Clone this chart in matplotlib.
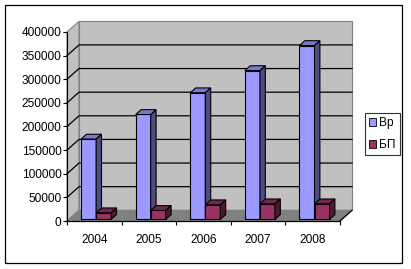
import matplotlib
matplotlib.use("Agg")
import matplotlib.pyplot as plt
from matplotlib.patches import Polygon, Rectangle, Patch
import numpy as np

years = ["2004", "2005", "2006", "2007", "2008"]
vr = [170000, 222000, 268000, 315000, 368000]
bp = [14000, 19000, 31000, 33000, 33000]
series_names = ["Вр", "БП"]
yticks = list(range(0, 400001, 50000))

plt.rcParams["font.family"] = ["Liberation Sans", "DejaVu Sans"]
plt.rcParams["font.size"] = 8.6

W, H = 411, 269
fig = plt.figure(figsize=(W / 100, H / 100), dpi=100)
fig.patch.set_facecolor("white")
fig.add_artist(Rectangle((5 / W, 1 - 263 / H), 397 / W, 258 / H, transform=fig.transFigure,
                         fill=False, edgecolor="black", linewidth=0.9))

ax = fig.add_axes([67 / W, 48 / H, 273 / W, 189 / H])
ax.set_xlim(-0.5, 4.5)
ax.set_ylim(0, 400000)
ax.patch.set_visible(False)

# depth of the 3d box in data units
DX = 12 / 273 * 5
DY = 10.7 / 189 * 400000
x0, x1, ytop = -0.5, 4.5, 400000

def poly(pts, fc, ec, lw=0.8, z=1):
    ax.add_patch(Polygon(pts, closed=True, facecolor=fc, edgecolor=ec, linewidth=lw,
                         clip_on=False, zorder=z))

# walls and floor
poly([(x0, 0), (x0 + DX, DY), (x0 + DX, ytop + DY), (x0, ytop)], "#c0c0c0", "#808080", z=0.5)
poly([(x0 + DX, DY), (x1 + DX, DY), (x1 + DX, ytop + DY), (x0 + DX, ytop + DY)], "#c0c0c0", "#808080", z=0.5)
poly([(x0, 0), (x1, 0), (x1 + DX, DY), (x0 + DX, DY)], "#808080", "#808080", z=0.6)

# gridlines
for v in yticks[1:-1]:
    ax.plot([x0, x0 + DX, x1 + DX], [v, v + DY, v + DY], color="black", lw=0.9,
            clip_on=False, zorder=0.8)
ax.plot([x1, x1 + DX], [0, DY], color="black", lw=0.9, clip_on=False, zorder=0.8)

# bars
bw = 0.275
d0, d1 = 0.15, 0.6
colors = [("#9999ff", "#7a7acc", "#4d4d80"), ("#993366", "#73264d", "#4c1933")]
for i in range(len(years)):
    for j, vals in enumerate([vr, bp]):
        face, top, side = colors[j]
        v = vals[i]
        xl = i - bw + j * bw + d0 * DX
        xr = xl + bw
        yb = d0 * DY
        yt = v + d0 * DY
        ddx = (d1 - d0) * DX
        ddy = (d1 - d0) * DY
        poly([(xl, yb), (xr, yb), (xr, yt), (xl, yt)], face, "black", z=2)
        poly([(xl, yt), (xr, yt), (xr + ddx, yt + ddy), (xl + ddx, yt + ddy)], top, "black", z=2)
        poly([(xr, yb), (xr + ddx, yb + ddy), (xr + ddx, yt + ddy), (xr, yt)], side, "black", z=2)

# axes
for s in ["top", "right"]:
    ax.spines[s].set_visible(False)
ax.spines["left"].set_linewidth(0.8)
ax.spines["bottom"].set_linewidth(0.9)
ax.spines["left"].set_zorder(3)
ax.spines["bottom"].set_zorder(3)
ax.set_yticks(yticks)
ax.set_yticklabels([str(v) for v in yticks])
ax.tick_params(axis="y", length=2.9, width=0.8, pad=1)
ax.set_xticks(range(len(years)))
ax.set_xticklabels(years)
ax.set_xticks(np.arange(-0.5, 4.6, 1), minor=True)
ax.tick_params(axis="x", which="major", length=0, pad=9.4)
ax.tick_params(axis="x", which="minor", length=2.9, width=0.8)

handles = [Patch(facecolor=colors[0][0], edgecolor="black", linewidth=0.6),
           Patch(facecolor=colors[1][0], edgecolor="black", linewidth=0.6)]
leg = fig.legend(handles, series_names, loc="center left",
                 bbox_to_anchor=(365 / W, 1 - 134 / H), frameon=True, fancybox=False,
                 handlelength=0.6, handleheight=0.6, handletextpad=0.25,
                 borderpad=0.35, borderaxespad=0, labelspacing=0.85)
leg.get_frame().set_edgecolor("black")
leg.get_frame().set_linewidth(0.8)

fig.savefig("out.png", dpi=100)
